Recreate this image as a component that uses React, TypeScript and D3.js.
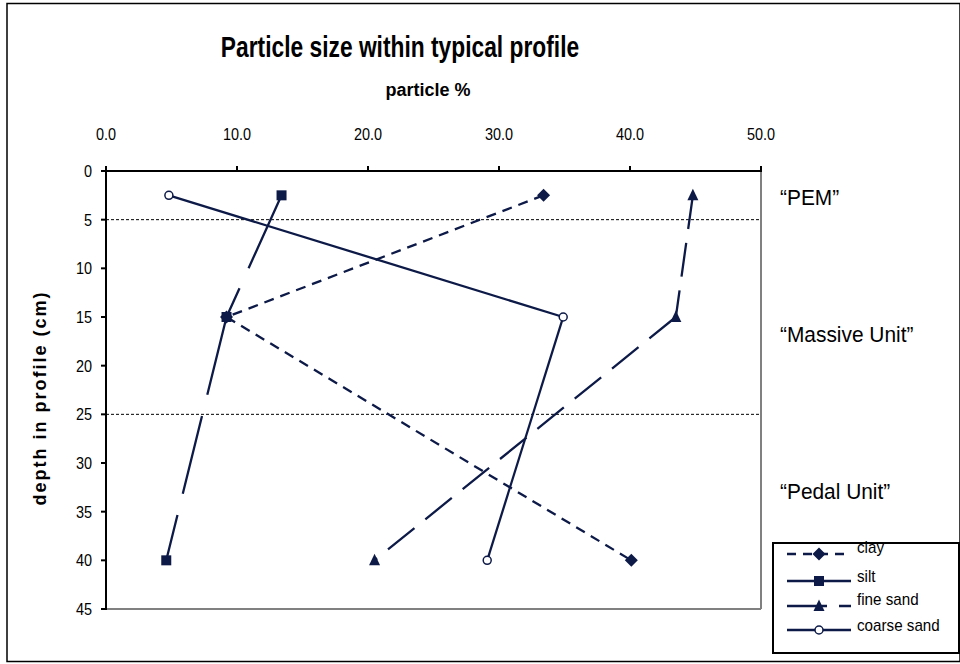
import React from "react";
import * as d3 from "d3";

const depths = [2.5, 15, 40];
const clay = [33.4, 9.2, 40.1];
const silt = [13.4, 9.2, 4.6];
const fineSand = [44.8, 43.5, 20.5];
const coarseSand = [4.8, 34.9, 29.1];
const xTicks = [0, 10, 20, 30, 40, 50];
const yTicks = [0, 5, 10, 15, 20, 25, 30, 35, 40, 45];
const boundaries = [5, 25];
const units = [
  { label: "\u201CPEM\u201D", depth: 2.8 },
  { label: "\u201CMassive Unit\u201D", depth: 16.9 },
  { label: "\u201CPedal Unit\u201D", depth: 33 },
];

const NAVY = "#0d1a47";
const FONT = "'Liberation Sans', Arial, sans-serif";

type Series = { name: string; values: number[]; dash: string; marker: string; legendDash: string };
const series: Series[] = [
  { name: "clay", values: clay, dash: "10,7", marker: "diamond", legendDash: "9,7" },
  { name: "silt", values: silt, dash: "80,22", marker: "square", legendDash: "" },
  { name: "fine sand", values: fineSand, dash: "34,14", marker: "triangle", legendDash: "40,12" },
  { name: "coarse sand", values: coarseSand, dash: "", marker: "circle", legendDash: "" },
];

function Marker({ type, x, y }: { type: string; x: number; y: number }) {
  if (type === "diamond") {
    const s = 6.5;
    return <path d={`M${x},${y - s}L${x + s},${y}L${x},${y + s}L${x - s},${y}Z`} fill={NAVY} />;
  }
  if (type === "square") {
    return <rect x={x - 5} y={y - 5} width={10} height={10} fill={NAVY} />;
  }
  if (type === "triangle") {
    return <path d={`M${x},${y - 6.5}L${x + 5.5},${y + 5}L${x - 5.5},${y + 5}Z`} fill={NAVY} />;
  }
  return <circle cx={x} cy={y} r={4} fill="white" stroke={NAVY} strokeWidth={1.5} />;
}

function NText({
  x, y, sx = 0.85, anchor = "start", size, weight = "normal", children,
}: { x: number; y: number; sx?: number; anchor?: string; size: number; weight?: string; children: React.ReactNode }) {
  return (
    <text
      transform={`translate(${x},${y}) scale(${sx},1)`}
      textAnchor={anchor as any}
      fontSize={size}
      fontWeight={weight}
      fill="black"
    >
      {children}
    </text>
  );
}

export default function App() {
  const W = 960, H = 664;
  const x = d3.scaleLinear().domain([0, 50]).range([106, 761]);
  const y = d3.scaleLinear().domain([0, 45]).range([171, 609]);

  const legendX = 773, legendY = 543;
  const legendRows = [554, 581, 606, 630];
  const legendTextDy = [-1, 1, -1, 1];

  return (
    <svg width={W} height={H} style={{ position: "absolute", left: 0, top: 0 }} fontFamily={FONT}>
      <rect x={0} y={0} width={W} height={H} fill="white" />
      <rect x={7} y={3.5} width={953} height={658} fill="none" stroke="black" strokeWidth={1.5} />

      <NText x={400} y={57} anchor="middle" size={30} weight="bold" sx={0.76}>
        Particle size within typical profile
      </NText>
      <NText x={428} y={96} anchor="middle" size={18} weight="bold" sx={1}>
        particle %
      </NText>

      {/* plot border */}
      <line x1={761} y1={171} x2={761} y2={609} stroke="#808080" strokeWidth={2} />
      <line x1={106} y1={609} x2={761} y2={609} stroke="#808080" strokeWidth={2} />

      {/* boundary lines */}
      {boundaries.map((b) => (
        <line key={b} x1={106} x2={761} y1={y(b)} y2={y(b)} stroke="black" strokeWidth={1} strokeDasharray="3,2" />
      ))}

      {/* axes */}
      <line x1={101} y1={171} x2={762} y2={171} stroke="black" strokeWidth={2} />
      <line x1={106} y1={166} x2={106} y2={610} stroke="black" strokeWidth={2} />
      {xTicks.map((t) => (
        <g key={t}>
          <line x1={x(t)} x2={x(t)} y1={166} y2={171} stroke="black" strokeWidth={2} />
          <NText x={x(t)} y={140} anchor="middle" size={17} sx={0.85}>
            {d3.format(".1f")(t)}
          </NText>
        </g>
      ))}
      {yTicks.map((t) => (
        <g key={t}>
          <line x1={101} x2={106} y1={y(t)} y2={y(t)} stroke="black" strokeWidth={2} />
          <NText x={92} y={y(t) + 6} anchor="end" size={17} sx={0.85}>
            {t}
          </NText>
        </g>
      ))}
      <text
        transform={`translate(46,398) rotate(-90)`}
        textAnchor="middle"
        fontSize={18}
        fontWeight="bold"
        letterSpacing={2}
        fill="black"
      >
        depth in profile (cm)
      </text>

      {/* series */}
      {series.map((s) => (
        <g key={s.name}>
          {s.values.slice(0, -1).map((v, i) => (
            <line
              key={i}
              x1={x(v)}
              y1={y(depths[i])}
              x2={x(s.values[i + 1])}
              y2={y(depths[i + 1])}
              stroke={NAVY}
              strokeWidth={2.3}
              strokeDasharray={s.dash || undefined}
            />
          ))}
        </g>
      ))}
      {series.map((s) => (
        <g key={s.name + "m"}>
          {s.values.map((v, i) => (
            <Marker key={i} type={s.marker} x={x(v)} y={y(depths[i])} />
          ))}
        </g>
      ))}

      {/* unit annotations */}
      {units.map((u) => (
        <NText key={u.label} x={780} y={y(u.depth) + 7} size={22} sx={0.95}>
          {u.label}
        </NText>
      ))}

      {/* legend */}
      <rect x={legendX} y={legendY} width={186} height={110} fill="white" stroke="black" strokeWidth={2} />
      {series.map((s, i) => {
        const ly = legendRows[i];
        return (
          <g key={s.name + "l"}>
            <line
              x1={787}
              x2={851}
              y1={ly}
              y2={ly}
              stroke={NAVY}
              strokeWidth={2.3}
              strokeDasharray={s.legendDash || undefined}
            />
            <Marker type={s.marker} x={819} y={ly} />
            <NText x={857} y={ly + legendTextDy[i]} size={16} sx={0.95}>
              {s.name}
            </NText>
          </g>
        );
      })}
    </svg>
  );
}
